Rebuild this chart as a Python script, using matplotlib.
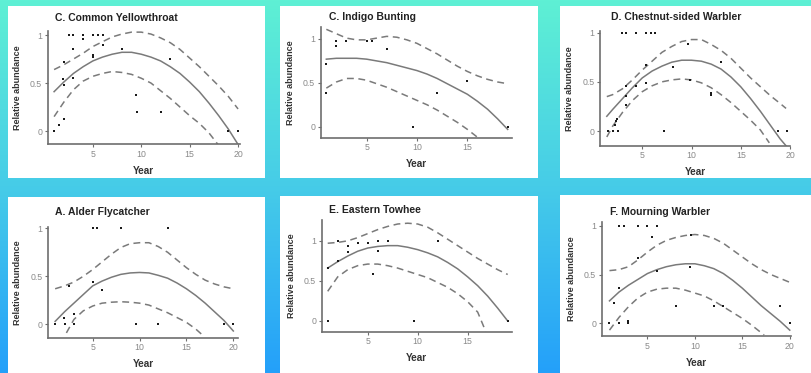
import numpy as np
import matplotlib
matplotlib.use("Agg")
import matplotlib.pyplot as plt
from matplotlib.patches import Rectangle

plt.rcParams['font.family'] = ['Liberation Sans', 'DejaVu Sans']

# ------------------------------------------------- data
years_1to20 = [1, 2, 3, 4, 5, 6, 7, 8, 9, 10, 11, 12, 13, 14, 15, 16, 17, 18, 19, 20]

# C. Common Yellowthroat
cy_x = [1, 1.5, 2, 1.9, 2, 2, 2.5, 3, 3, 3, 4, 4, 5, 5.5, 6, 5, 5, 6, 8, 9.5, 9.6, 12, 13, 19, 20]
cy_y = [0, 0.06, 0.13, 0.54, 0.48, 0.72, 1, 1, 0.85, 0.55, 1, 0.96, 1, 1, 1, 0.79, 0.77, 0.9, 0.85, 0.38, 0.2, 0.2, 0.75, 0, 0]
cy_fit = [0.41, 0.51, 0.60, 0.67, 0.73, 0.77, 0.80, 0.82, 0.82, 0.80, 0.77, 0.73, 0.67, 0.60, 0.51, 0.41, 0.29, 0.16, 0.02, -0.14]
cy_hi = [0.64, 0.69, 0.75, 0.81, 0.88, 0.93, 0.98, 1.01, 1.03, 1.03, 1.01, 0.97, 0.92, 0.85, 0.76, 0.67, 0.57, 0.47, 0.36, 0.23]
cy_lo_x = [1, 2, 3, 4, 5, 6, 7, 8, 9, 10, 11, 12, 13, 14, 15, 16, 17, 18]
cy_lo = [0.15, 0.30, 0.43, 0.52, 0.57, 0.60, 0.62, 0.61, 0.59, 0.55, 0.50, 0.42, 0.34, 0.25, 0.16, 0.08, -0.02, -0.15]

# C. Indigo Bunting
ib_x = [1, 1, 2, 2, 3, 5, 5.5, 7, 9.6, 12, 15, 19]
ib_y = [0.72, 0.38, 0.92, 0.98, 0.98, 0.98, 0.98, 0.89, 0, 0.38, 0.52, 0]
ib_fit_x = [1, 2, 3, 4, 5, 6, 7, 8, 9, 10, 11, 12, 13, 14, 15, 16, 17, 18, 19]
ib_fit = [0.77, 0.78, 0.78, 0.78, 0.77, 0.75, 0.73, 0.70, 0.67, 0.64, 0.60, 0.55, 0.49, 0.43, 0.37, 0.29, 0.20, 0.09, -0.03]
ib_hi = [1.11, 1.06, 1.01, 0.99, 0.99, 1.01, 1.03, 1.02, 0.99, 0.95, 0.89, 0.83, 0.76, 0.69, 0.63, 0.58, 0.54, 0.51, 0.49]
ib_lo_x = [1, 2, 3, 4, 5, 6, 7, 8, 9, 10, 11, 12, 13, 14, 15, 16]
ib_lo = [0.44, 0.51, 0.55, 0.55, 0.53, 0.49, 0.45, 0.40, 0.35, 0.30, 0.25, 0.19, 0.12, 0.05, -0.03, -0.12]

# D. Chestnut-sided Warbler
cs_x = [1.5, 2, 2.5, 2.2, 2.3, 2.4, 2.9, 3.4, 4.4, 5.4, 5.85, 6.3, 3.4, 3.4, 3.4, 4.4, 5.4, 5.4,
        7.2, 8.1, 9.6, 9.8, 12, 12, 13, 18.8, 19.7]
cs_y = [0, 0, 0, 0.06, 0.1, 0.12, 1, 1, 1, 1, 1, 1, 0.46, 0.36, 0.26, 0.46, 0.67, 0.49,
        0, 0.65, 0.88, 0.52, 0.39, 0.37, 0.70, 0, 0]
cs_fit_x = [1.4, 2, 3, 4, 5, 6, 7, 8, 9, 10, 11, 12, 13, 14, 15, 16, 17, 18, 19, 19.6]
cs_fit = [0.15, 0.22, 0.33, 0.44, 0.54, 0.61, 0.66, 0.70, 0.72, 0.72, 0.71, 0.68, 0.63, 0.55, 0.45, 0.33, 0.20, 0.06, -0.08, -0.15]
cs_hi = [0.35, 0.37, 0.43, 0.52, 0.62, 0.71, 0.80, 0.86, 0.91, 0.93, 0.93, 0.88, 0.82, 0.74, 0.64, 0.54, 0.45, 0.36, 0.28, 0.23]
cs_lo_x = [1.4, 2, 3, 4, 5, 6, 7, 8, 9, 10, 11, 12, 13, 14, 15, 16, 17, 17.9]
cs_lo = [-0.06, 0.05, 0.19, 0.31, 0.40, 0.46, 0.50, 0.52, 0.53, 0.52, 0.49, 0.44, 0.37, 0.29, 0.20, 0.11, 0.01, -0.12]

# A. Alder Flycatcher
af_x = [1, 1.9, 2, 2.5, 3, 3, 5, 5.5, 5, 6, 8, 9.6, 12, 13, 19, 20]
af_y = [0, 0.07, 0, 0.4, 0.11, 0, 1, 1, 0.44, 0.36, 1, 0, 0, 1, 0, 0]
af_fit = [0.03, 0.13, 0.22, 0.31, 0.40, 0.45, 0.49, 0.52, 0.535, 0.54, 0.535, 0.51, 0.48, 0.43, 0.37, 0.30, 0.22, 0.13, 0.04, -0.07]
af_hi = [0.37, 0.40, 0.44, 0.50, 0.57, 0.65, 0.73, 0.80, 0.84, 0.85, 0.85, 0.81, 0.75, 0.67, 0.59, 0.52, 0.46, 0.42, 0.39, 0.37]
af_lo_x = [2.2, 3, 4, 5, 6, 7, 8, 9, 10, 11, 12, 13, 14, 15, 16, 16.8]
af_lo = [-0.09, 0.05, 0.14, 0.19, 0.22, 0.23, 0.235, 0.23, 0.22, 0.20, 0.16, 0.12, 0.07, 0.02, -0.05, -0.12]

# E. Eastern Towhee
et_x = [1, 1, 2, 2, 3, 3, 4, 5, 5.5, 6, 6, 7, 9.6, 12, 19]
et_y = [0.66, 0, 1, 0.75, 0.93, 0.86, 0.97, 0.97, 0.58, 1, 0.87, 1, 0, 1, 0]
et_fit_x = [1, 2, 3, 4, 5, 6, 7, 8, 9, 10, 11, 12, 13, 14, 15, 16, 17, 18, 19]
et_fit = [0.66, 0.74, 0.81, 0.87, 0.91, 0.93, 0.94, 0.94, 0.92, 0.89, 0.85, 0.80, 0.73, 0.65, 0.55, 0.44, 0.31, 0.16, 0.0]
et_hi = [0.97, 0.98, 1.0, 1.04, 1.09, 1.14, 1.18, 1.21, 1.22, 1.21, 1.17, 1.10, 1.02, 0.94, 0.86, 0.78, 0.71, 0.64, 0.58]
et_lo_x = [1, 2, 3, 4, 5, 6, 7, 8, 9, 10, 11, 12, 13, 14, 15, 16, 16.8]
et_lo = [0.37, 0.55, 0.64, 0.69, 0.71, 0.71, 0.69, 0.66, 0.62, 0.58, 0.54, 0.48, 0.42, 0.34, 0.24, 0.11, -0.13]

# F. Mourning Warbler
mw_x = [1, 1.5, 2, 2.5, 2, 2, 3, 3, 4, 5, 6, 4, 5.5, 6, 8, 9.6, 9.5, 12, 13, 19, 20]
mw_y = [0, 0.21, 1, 1, 0.36, 0, 0.02, 0, 1, 1, 1, 0.67, 0.88, 0.54, 0.18, 0.9, 0.58, 0.18, 0.18, 0.18, 0]
mw_fit = [0.23, 0.32, 0.39, 0.45, 0.51, 0.55, 0.58, 0.60, 0.61, 0.61, 0.59, 0.56, 0.51, 0.44, 0.36, 0.27, 0.18, 0.10, 0.02, -0.07]
mw_hi = [0.54, 0.55, 0.58, 0.65, 0.73, 0.80, 0.85, 0.88, 0.90, 0.91, 0.90, 0.87, 0.82, 0.75, 0.68, 0.61, 0.55, 0.50, 0.46, 0.42]
mw_lo_x = [1, 2, 3, 4, 5, 6, 7, 8, 9, 10, 11, 12, 13, 14, 15, 16, 17.3]
mw_lo = [-0.07, 0.06, 0.17, 0.26, 0.32, 0.35, 0.36, 0.36, 0.34, 0.31, 0.28, 0.23, 0.17, 0.11, 0.05, -0.02, -0.12]

titles = ["C. Common Yellowthroat", "C. Indigo Bunting", "D. Chestnut-sided Warbler",
          "A. Alder Flycatcher", "E. Eastern Towhee", "F. Mourning Warbler"]
xticks_20 = [5, 10, 15, 20]
xticks_15 = [5, 10, 15]
yticks = [0, 0.5, 1]
ytick_labels = ["0", "0.5", "1"]

# ------------------------------------------------- layout (pixels)
W, H = 812, 373
# white card: x0, x1, y_top, y_bottom
cards = [(8, 265, 6, 178), (280, 538, 6, 178), (560, 812, 6, 178),
         (8, 265, 197, 373), (280, 538, 196, 373), (560, 812, 195, 373)]
# axes box: left, right, top, bottom
boxes = [(47.7, 240, 30.5, 144), (320.7, 511.7, 26.7, 137.7), (600, 790, 30.7, 145.7),
         (48.3, 238, 226.7, 337.7), (321.7, 511.7, 220, 331.7), (601.7, 790.7, 222.3, 336)]
xlims = [(0.34, 20.2), (0.44, 19.4), (0.71, 20.0), (0.27, 20.5), (0.4, 19.4), (0.18, 20.1)]
ylims = [(-0.135, 1.047), (-0.125, 1.14), (-0.149, 1.02), (-0.14, 1.017), (-0.134, 1.26), (-0.13, 1.035)]
title_pos = [(55, 18), (329, 16.7), (611, 16.7), (55, 212.3), (329.3, 210), (610, 211.7)]

panels = [
    (cy_x, cy_y, years_1to20, cy_fit, years_1to20, cy_hi, cy_lo_x, cy_lo, xticks_20),
    (ib_x, ib_y, ib_fit_x, ib_fit, ib_fit_x, ib_hi, ib_lo_x, ib_lo, xticks_15),
    (cs_x, cs_y, cs_fit_x, cs_fit, cs_fit_x, cs_hi, cs_lo_x, cs_lo, xticks_20),
    (af_x, af_y, years_1to20, af_fit, years_1to20, af_hi, af_lo_x, af_lo, xticks_20),
    (et_x, et_y, et_fit_x, et_fit, et_fit_x, et_hi, et_lo_x, et_lo, xticks_15),
    (mw_x, mw_y, years_1to20, mw_fit, years_1to20, mw_hi, mw_lo_x, mw_lo, xticks_20),
]

fig = plt.figure(figsize=(W / 100, H / 100), dpi=100)

# background gradient
bg = fig.add_axes([0, 0, 1, 1], zorder=-10)
top = np.array([94, 240, 212]) / 255
mid = np.array([70, 204, 232]) / 255
bot = np.array([36, 160, 250]) / 255
t = np.linspace(0, 1, 200)[:, None]
grad = np.where(t < 0.5, top + (mid - top) * (t / 0.5), mid + (bot - mid) * ((t - 0.5) / 0.5))
bg.imshow(grad[:, None, :], aspect='auto', extent=[0, 1, 0, 1], origin='upper')
bg.set_xlim(0, 1)
bg.set_ylim(0, 1)
bg.axis('off')

for (x0, x1, y0, y1) in cards:
    fig.patches.append(Rectangle((x0 / W, 1 - y1 / H), (x1 - x0) / W, (y1 - y0) / H,
                                 transform=fig.transFigure, facecolor='white',
                                 edgecolor='none', zorder=-5))

axis_col = '#6e6e6e'
line_col = '#7a7a7a'
for i, p in enumerate(panels):
    px, py, fx, fit, hx, hi, lx, lo, xt = p
    l, r, tp, b = boxes[i]
    ax = fig.add_axes([l / W, 1 - b / H, (r - l) / W, (b - tp) / H])
    ax.patch.set_alpha(0)
    ax.plot(fx, fit, color=line_col, lw=1.1)
    ax.plot(hx, hi, color=line_col, lw=1.1, dashes=(4.5, 3))
    ax.plot(lx, lo, color=line_col, lw=1.1, dashes=(4.5, 3))
    ax.plot(px, py, 's', color='#1a1a1a', ms=1.8, mew=0)
    ax.set_xlim(*xlims[i])
    ax.set_ylim(*ylims[i])
    ax.set_xticks(xt)
    ax.set_yticks(yticks)
    ax.set_yticklabels(ytick_labels)
    for s in ['top', 'right']:
        ax.spines[s].set_visible(False)
    for s in ['left', 'bottom']:
        ax.spines[s].set_color(axis_col)
        ax.spines[s].set_linewidth(1.2)
    ax.tick_params(colors=axis_col, labelcolor='#8a8a8a', labelsize=6.3,
                   length=2, width=0.8, pad=2)
    ax.set_xlabel("Year", fontsize=7.2, fontweight='bold', color='#333333', labelpad=5)
    ax.set_ylabel("Relative abundance", fontsize=6.5, fontweight='bold', color='#333333', labelpad=6)
    tx, ty = title_pos[i]
    fig.text(tx / W, 1 - ty / H, titles[i], fontsize=7.5, fontweight='bold',
             color='#222222', ha='left', va='center')

fig.savefig("out.png", dpi=100)
